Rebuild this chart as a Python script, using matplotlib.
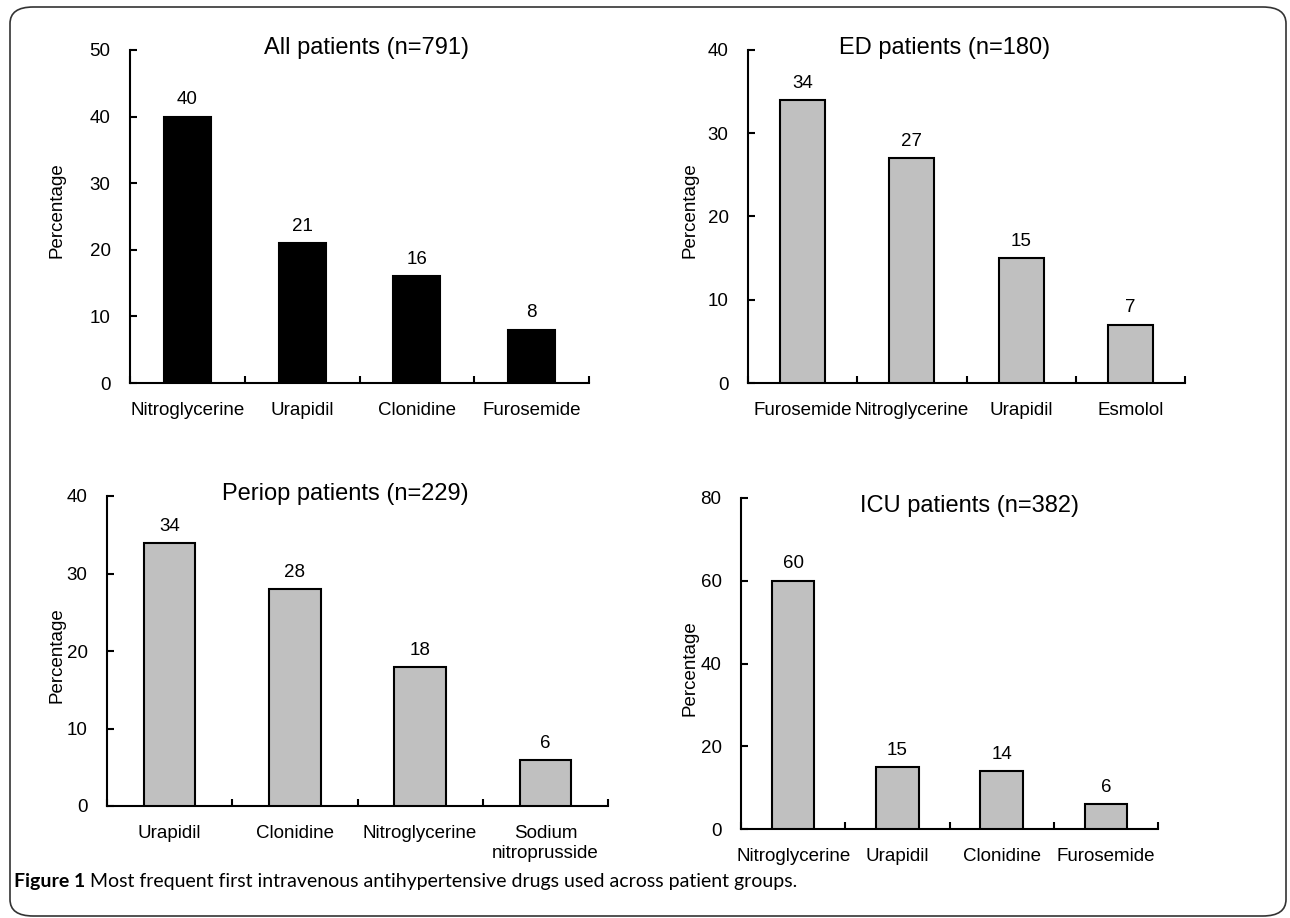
import matplotlib.pyplot as plt
import numpy as np
from matplotlib.patches import FancyBboxPatch

plt.rcParams['font.family'] = ['Liberation Sans', 'DejaVu Sans']

# data
all_drugs = ['Nitroglycerine', 'Urapidil', 'Clonidine', 'Furosemide']
all_vals = [40, 21, 16, 8]
ed_drugs = ['Furosemide', 'Nitroglycerine', 'Urapidil', 'Esmolol']
ed_vals = [34, 27, 15, 7]
periop_drugs = ['Urapidil', 'Clonidine', 'Nitroglycerine', 'Sodium\nnitroprusside']
periop_vals = [34, 28, 18, 6]
icu_drugs = ['Nitroglycerine', 'Urapidil', 'Clonidine', 'Furosemide']
icu_vals = [60, 15, 14, 6]

W, H = 1290, 918
fig = plt.figure(figsize=(W / 100, H / 100), dpi=100)

def px(x0, y0, x1, y1):
    # pixel box -> figure fraction [left, bottom, width, height]
    return [x0 / W, 1 - y1 / H, (x1 - x0) / W, (y1 - y0) / H]

panels = [
    (all_drugs, all_vals, 'black', 50, 10, px(130, 50, 589, 383),
     'All patients (n=791)', (367, 48), (57, 210)),
    (ed_drugs, ed_vals, '#c0c0c0', 40, 10, px(748, 50, 1185, 383),
     'ED patients (n=180)', (945, 48), (690, 210)),
    (periop_drugs, periop_vals, '#c0c0c0', 40, 10, px(107, 496, 608, 806),
     'Periop patients (n=229)', (345, 494), (57, 655)),
    (icu_drugs, icu_vals, '#c0c0c0', 80, 20, px(741, 498, 1158, 829),
     'ICU patients (n=382)', (970, 506), (690, 668)),
]

fs = 13.5
for drugs, vals, col, ymax, step, rect, title, tpos, lpos in panels:
    ax = fig.add_axes(rect)
    x = np.arange(len(drugs))
    ax.bar(x, vals, width=0.41, color=col, edgecolor='black', linewidth=1.5, zorder=3)
    for xi, v in zip(x, vals):
        ax.text(xi, v + ymax * 0.025, str(v), ha='center', va='bottom', fontsize=fs)
    ax.set_xlim(-0.5, len(drugs) - 0.5)
    ax.set_ylim(0, ymax)
    ax.set_yticks(np.arange(0, ymax + 1, step))
    ax.set_xticks(x)
    ax.set_xticklabels(drugs, fontsize=fs)
    ax.set_xticks(np.arange(-0.5, len(drugs)), minor=True)
    ax.tick_params(axis='x', which='major', length=0, pad=14)
    ax.tick_params(axis='x', which='minor', direction='in', length=5, width=1.5)
    ax.tick_params(axis='y', direction='in', length=5, width=1.5, pad=14, labelsize=fs)
    for s in ['top', 'right']:
        ax.spines[s].set_visible(False)
    for s in ['left', 'bottom']:
        ax.spines[s].set_linewidth(1.5)
    fig.text(tpos[0] / W, 1 - tpos[1] / H, title, ha='center', va='center', fontsize=17)
    fig.text(lpos[0] / W, 1 - lpos[1] / H, 'Percentage', ha='center', va='center',
             rotation=90, fontsize=fs)

# rounded frame
frame = FancyBboxPatch((10 / W, 2 / H), 1276 / W, 909 / H, transform=fig.transFigure,
                       boxstyle='round,pad=0,rounding_size=0.018', fill=False,
                       edgecolor='#333333', linewidth=1.2)
fig.patches.append(frame)

t1 = fig.text(14 / W, 1 - 882 / H, 'Figure 1', fontsize=14, fontweight='bold',
              family=['Lato', 'DejaVu Sans'], va='center', ha='left')
fig.canvas.draw()
bb = t1.get_window_extent()
fig.text((bb.x1 + 5) / W, 1 - 882 / H,
         'Most frequent first intravenous antihypertensive drugs used across patient groups.',
         fontsize=14, family=['Lato', 'DejaVu Sans'], va='center', ha='left')

fig.savefig('out.png', dpi=100)
